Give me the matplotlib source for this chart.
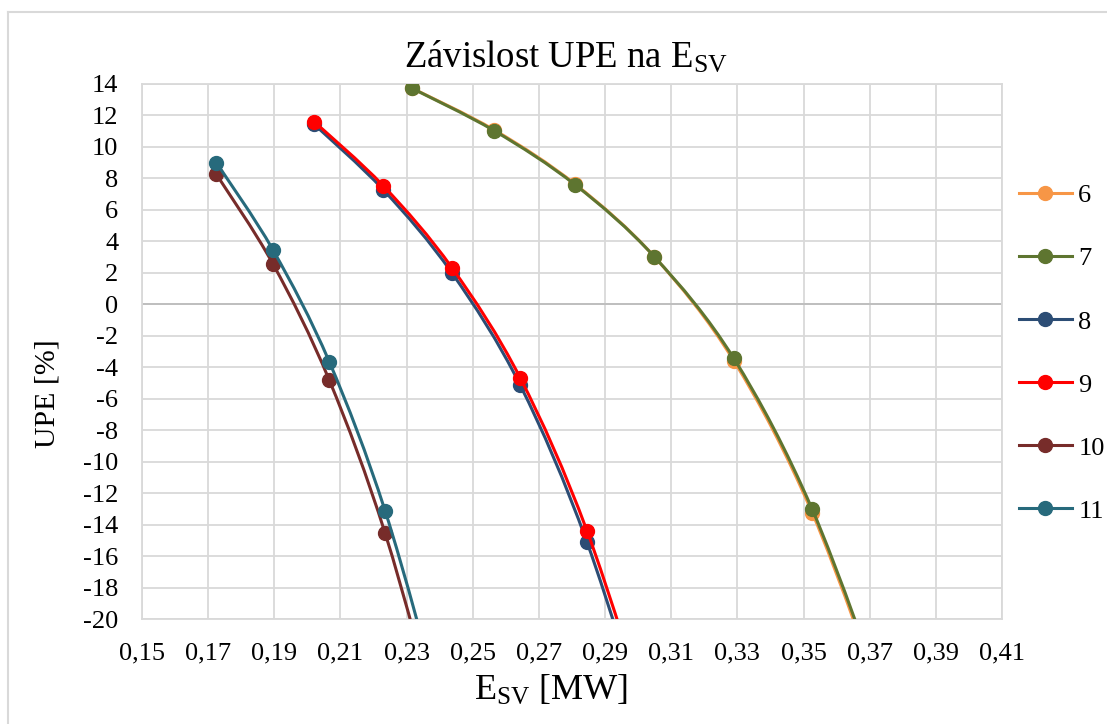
import numpy as np
import matplotlib
matplotlib.use("Agg")
import matplotlib.pyplot as plt
from matplotlib.path import Path
from matplotlib.patches import PathPatch
from matplotlib.lines import Line2D
from matplotlib.ticker import FuncFormatter, FixedLocator

plt.rcParams['font.family'] = ['Liberation Serif', 'DejaVu Serif']
plt.rcParams['mathtext.fontset'] = 'custom'
plt.rcParams['mathtext.rm'] = 'Liberation Serif'
plt.rcParams['axes.unicode_minus'] = False

# data (last point of each series lies below the visible range)
x_6_7 = [0.2317, 0.2565, 0.2810, 0.3049, 0.3289, 0.3526, 0.3763]
y_6 = [13.70, 11.05, 7.60, 3.00, -3.60, -13.25, -26.6]
y_7 = [13.69, 11.00, 7.56, 3.00, -3.45, -13.03, -26.3]
x_8_9 = [0.2021, 0.2230, 0.2437, 0.2643, 0.2845, 0.3050]
y_8 = [11.40, 7.24, 1.97, -5.14, -15.11, -28.6]
y_9 = [11.57, 7.49, 2.30, -4.68, -14.39, -27.6]
x_10_11 = [0.1725, 0.1896, 0.2066, 0.2235, 0.2405]
y_10 = [8.23, 2.54, -4.83, -14.56, -27.3]
y_11 = [8.97, 3.43, -3.66, -13.14, -25.7]

labels = ['6', '7', '8', '9', '10', '11']
xs = [x_6_7, x_6_7, x_8_9, x_8_9, x_10_11, x_10_11]
ys = [y_6, y_7, y_8, y_9, y_10, y_11]
colors = ['#F79646', '#5E7530', '#2C4D75', '#FF0000', '#772C2A', '#276A7C']

x_ticks = [0.15, 0.17, 0.19, 0.21, 0.23, 0.25, 0.27, 0.29, 0.31, 0.33, 0.35,
           0.37, 0.39, 0.41]
y_ticks = list(range(-20, 15, 2))


def smooth_path(x, y):
    # Excel-like smoothed line: cubic Bezier with Catmull-Rom control points
    p = np.column_stack([x, y])
    n = len(p)
    verts = [p[0]]
    codes = [Path.MOVETO]
    for i in range(n - 1):
        p0 = p[max(i - 1, 0)]
        p1 = p[i]
        p2 = p[i + 1]
        p3 = p[min(i + 2, n - 1)]
        c1 = p1 + (p2 - p0) / 6.0
        c2 = p2 - (p3 - p1) / 6.0
        verts += [c1, c2, p2]
        codes += [Path.CURVE4] * 3
    return Path(verts, codes)


fig = plt.figure(figsize=(11.07, 7.24), dpi=100)
ax = fig.add_axes([0.1283, 0.1450, 0.7769, 0.7396])

for x, y, c, lab in zip(xs, ys, colors, labels):
    ax.add_patch(PathPatch(smooth_path(x, y), fill=False, edgecolor=c,
                           linewidth=2.2, zorder=3))
    ax.plot(x, y, linestyle='none', marker='o', markersize=10, color=c,
            zorder=3)

ax.set_xlim(0.15, 0.41)
ax.set_ylim(-20, 14)
ax.xaxis.set_major_locator(FixedLocator(x_ticks))
ax.yaxis.set_major_locator(FixedLocator(y_ticks))
ax.xaxis.set_major_formatter(FuncFormatter(lambda v, p: f'{v:.2f}'.replace('.', ',')))
ax.yaxis.set_major_formatter(FuncFormatter(lambda v, p: f'{v:.0f}'))
ax.tick_params(length=0, labelsize=19, pad=17)
ax.grid(True, color='#D9D9D9', linewidth=1.3, zorder=0)
ax.set_axisbelow(True)
for s in ax.spines.values():
    s.set_color('#D9D9D9')
    s.set_linewidth(1.3)
ax.axhline(0, color='#BFBFBF', linewidth=1.4, zorder=1)

# legend
handles = [Line2D([], [], color=c, linewidth=2.2, marker='o', markersize=10)
           for c in colors]
fig.legend(handles, labels, loc='center left', bbox_to_anchor=(0.9205, 0.512),
           frameon=False, fontsize=19, handlelength=2.0, handletextpad=0.25,
           labelspacing=1.5, borderpad=0, borderaxespad=0)

# titles
fig.text(0.511, 0.9075, r'Závislost UPE na $\mathregular{E_{SV}}$', fontsize=26.5,
         ha='center', va='baseline')
fig.text(551 / 1107, 0.033, r'$\mathregular{E_{SV}}$ [MW]', fontsize=26,
         ha='center', va='baseline')
fig.text(0.0425, 1 - 394 / 724, 'UPE [%]', fontsize=21.5, rotation=90,
         ha='center', va='center')

# chart frame
fig.add_artist(Line2D([8 / 1107, 1], [1 - 12 / 724, 1 - 12 / 724],
                      color='#D9D9D9', linewidth=1.5))
fig.add_artist(Line2D([8 / 1107, 8 / 1107], [0, 1 - 12 / 724],
                      color='#D9D9D9', linewidth=1.5))

fig.savefig('out.png', dpi=100)
